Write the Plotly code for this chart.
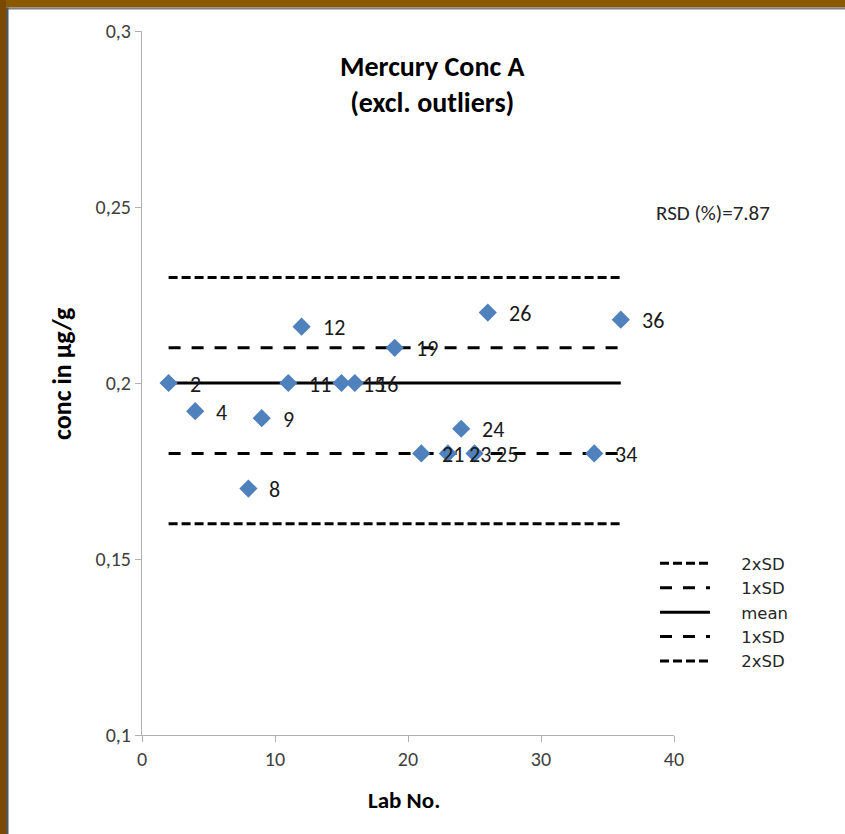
import plotly.graph_objects as go

# ---- data ----
lab_no = [2, 4, 8, 9, 11, 12, 15, 16, 19, 21, 23, 24, 25, 26, 34, 36]
conc = [0.200, 0.192, 0.170, 0.190, 0.200, 0.216, 0.200, 0.200, 0.210,
        0.180, 0.180, 0.187, 0.180, 0.220, 0.180, 0.218]
labels = [str(v) for v in lab_no]

line_names = ["2xSD", "1xSD", "mean", "1xSD", "2xSD"]
line_values = [0.23, 0.21, 0.20, 0.18, 0.16]
line_x = [2, 36]
rsd_text = "RSD (%)=7.87"

W, H = 845, 834
L, R, T, B = 142, 674, 31, 735
FONT = "Carlito, Lato, sans-serif"
NB = "\u00a0"


def px(xp):
    return (xp - L) / (R - L)


def py(yp):
    return (B - yp) / (B - T)


fig = go.Figure()

dashes = {"2xSD": "9px,4px", "1xSD": "12px,11px", "mean": "solid"}
for name, val in zip(line_names, line_values):
    fig.add_trace(go.Scatter(
        x=line_x, y=[val, val], mode="lines", name=NB * 5 + name,
        line=dict(color="black", width=3, dash=dashes[name]),
        hoverinfo="skip"))

fig.add_trace(go.Scatter(
    x=lab_no, y=conc, mode="markers", showlegend=False,
    marker=dict(symbol="diamond", size=14, color="#4F81BD",
                line=dict(width=0))))

annotations = []
for xv, yv, t in zip(lab_no, conc, labels):
    annotations.append(dict(x=xv, y=yv, xref="x", yref="y", text=t,
                            showarrow=False, xanchor="left", xshift=19,
                            yshift=-1,
                            font=dict(family=FONT, size=22, color="#1a1a1a")))

annotations += [
    dict(x=px(432), y=py(85), xref="paper", yref="paper",
         text="<b>Mercury Conc A</b><br><b>(excl. outliers)</b>",
         showarrow=False, xanchor="center", yanchor="middle",
         font=dict(family=FONT, size=28, color="black")),
    dict(x=px(654), y=py(213), xref="paper", yref="paper", text=rsd_text,
         showarrow=False, xanchor="left", yanchor="middle",
         font=dict(family=FONT, size=21, color="#262626")),
    dict(x=px(404), y=py(800), xref="paper", yref="paper", text="<b>Lab No.</b>",
         showarrow=False, xanchor="center", yanchor="middle",
         font=dict(family=FONT, size=23, color="black")),
    dict(x=px(62), y=py(374), xref="paper", yref="paper",
         text="<b>conc in µg/g</b>", textangle=-90,
         showarrow=False, xanchor="center", yanchor="middle",
         font=dict(family=FONT, size=26, color="black")),
]

shapes = [
    # brown frame
    dict(type="rect", xref="paper", yref="paper", x0=px(-5), x1=px(W + 5),
         y0=py(-5), y1=py(7.5), fillcolor="#8B5A00", line=dict(width=0),
         layer="above"),
    dict(type="rect", xref="paper", yref="paper", x0=px(6), x1=px(W + 5),
         y0=py(7.5), y1=py(9.5), fillcolor="#808080", line=dict(width=0),
         layer="above"),
    dict(type="rect", xref="paper", yref="paper", x0=px(-5), x1=px(6),
         y0=py(H + 5), y1=py(-5), fillcolor="#7A4A00", line=dict(width=0),
         layer="above"),
    dict(type="rect", xref="paper", yref="paper", x0=px(6), x1=px(8.5),
         y0=py(H + 5), y1=py(7.5), fillcolor="#555555", line=dict(width=0),
         layer="above"),
]

fig.update_layout(
    width=W, height=H,
    margin=dict(l=L, r=W - R, t=T, b=H - B, pad=0),
    paper_bgcolor="white", plot_bgcolor="white",
    separators=", ",
    font=dict(family=FONT, size=20, color="#404040"),
    showlegend=True,
    legend=dict(x=px(655), y=py(546), xanchor="left", yanchor="top",
                bgcolor="rgba(0,0,0,0)", traceorder="normal",
                font=dict(family="DejaVu Sans, sans-serif", size=16.5,
                          color="#262626"),
                itemwidth=50, tracegroupgap=0),
    annotations=annotations,
    shapes=shapes,
)

fig.update_xaxes(range=[0, 40], dtick=10, tick0=0, showgrid=False,
                 zeroline=False, showline=True, linecolor="#b0b0b0",
                 linewidth=1, ticks="outside", ticklen=6, tickcolor="#b0b0b0",
                 tickfont=dict(family=FONT, size=20, color="#404040"))
fig.update_yaxes(range=[0.1, 0.3], dtick=0.05, tick0=0.1, showgrid=False,
                 zeroline=False, showline=True, linecolor="#b0b0b0",
                 linewidth=1, ticks="outside", ticklen=6, tickcolor="#b0b0b0",
                 tickfont=dict(family=FONT, size=20, color="#404040"))

fig.write_html("out.html",
               config={"displayModeBar": False},
               post_script="document.body.style.margin='0';"
                           "document.body.style.padding='0';")
